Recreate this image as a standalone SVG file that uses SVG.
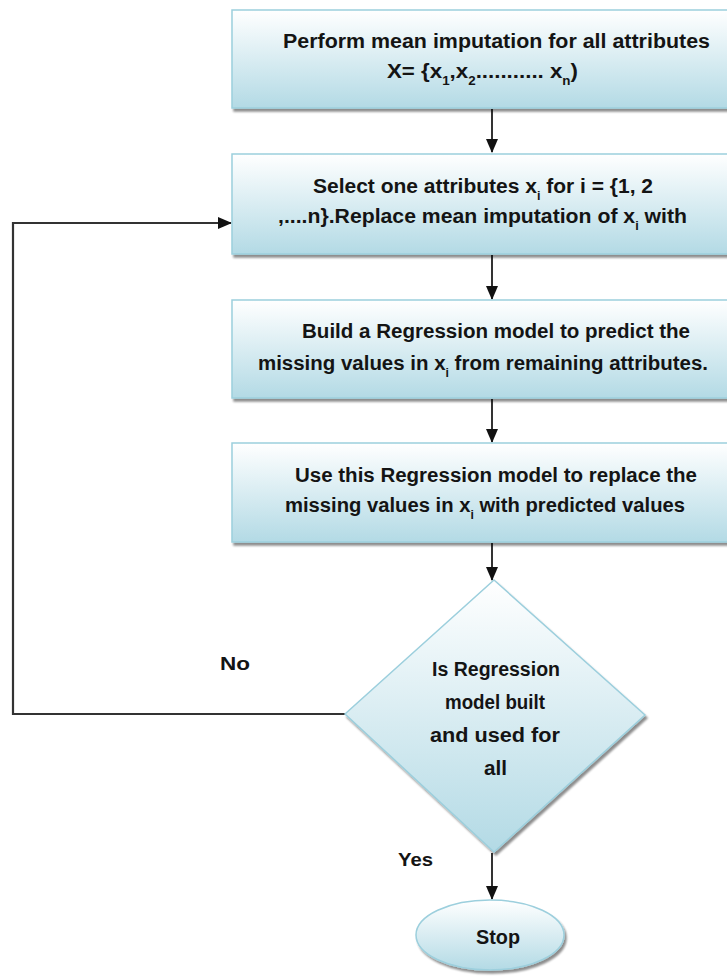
<svg xmlns="http://www.w3.org/2000/svg" width="727" height="978" viewBox="0 0 727 978">
<defs>
<linearGradient id="g" x1="0" y1="0" x2="0" y2="1">
<stop offset="0" stop-color="#ffffff"/>
<stop offset="1" stop-color="#b3dae5"/>
</linearGradient>
<filter id="sh" x="-5%" y="-5%" width="115%" height="120%">
<feGaussianBlur in="SourceAlpha" stdDeviation="1.2"/>
<feOffset dx="2" dy="3" result="o"/>
<feComponentTransfer><feFuncA type="linear" slope="0.45"/></feComponentTransfer>
<feMerge><feMergeNode/><feMergeNode in="SourceGraphic"/></feMerge>
</filter>
<marker id="ah2" markerWidth="14" markerHeight="12" refX="13" refY="6" orient="auto" markerUnits="userSpaceOnUse">
<path d="M0,0 L14,6 L0,12 Z" fill="#111"/>
</marker>
</defs>
<style>
.box{fill:url(#g);stroke:#9ccfdd;stroke-width:1.5;filter:url(#sh)}
.t{font-family:"Liberation Sans",Arial,sans-serif;font-weight:bold;font-size:20px;fill:#141414}
.lbl{font-family:"Liberation Sans",Arial,sans-serif;font-weight:bold;font-size:18px;fill:#141414}
.s{font-size:12px}
.c{stroke:#000;stroke-width:1.6;fill:none}
.loop{stroke:#333;stroke-width:2.2;fill:none}
</style>

<g id="connectors">
<line class="c" x1="492" y1="109" x2="492" y2="152" marker-end="url(#ah2)"/>
<line class="c" x1="492" y1="255" x2="492" y2="299" marker-end="url(#ah2)"/>
<line class="c" x1="492" y1="399" x2="492" y2="442" marker-end="url(#ah2)"/>
<line class="c" x1="492" y1="543" x2="492" y2="580" marker-end="url(#ah2)"/>
<line class="c" x1="492" y1="853" x2="492" y2="899" marker-end="url(#ah2)"/>
<polyline class="loop" points="345,714 13,714 13,223 231,223" marker-end="url(#ah2)"/>
</g>

<g id="n1">
<rect class="box" x="232" y="10" width="510" height="98"/>
<text class="t" x="283" y="48" textLength="427" lengthAdjust="spacingAndGlyphs">Perform mean imputation for all attributes</text>
<text class="t" x="387" y="78" textLength="191" lengthAdjust="spacingAndGlyphs">X= {x<tspan class="s" baseline-shift="sub">1</tspan>,x<tspan class="s" baseline-shift="sub">2</tspan>........... x<tspan class="s" baseline-shift="sub">n</tspan>)</text>
</g>

<g id="n2">
<rect class="box" x="232" y="154" width="510" height="100"/>
<text class="t" x="313" y="193" textLength="340" lengthAdjust="spacingAndGlyphs">Select one attributes x<tspan class="s" baseline-shift="sub">i</tspan> for i = {1, 2</text>
<text class="t" x="278" y="223" textLength="409" lengthAdjust="spacingAndGlyphs">,....n}.Replace mean imputation of x<tspan class="s" baseline-shift="sub">i</tspan> with</text>
</g>

<g id="n3">
<rect class="box" x="232" y="300" width="510" height="98"/>
<text class="t" x="302" y="338" textLength="388" lengthAdjust="spacingAndGlyphs">Build a Regression  model to predict the</text>
<text class="t" x="258" y="370" textLength="450" lengthAdjust="spacingAndGlyphs">missing values in x<tspan class="s" baseline-shift="sub">i</tspan> from remaining attributes.</text>
</g>

<g id="n4">
<rect class="box" x="232" y="443" width="510" height="99"/>
<text class="t" x="295" y="482" textLength="402" lengthAdjust="spacingAndGlyphs">Use this Regression model to replace the</text>
<text class="t" x="285" y="512" textLength="400" lengthAdjust="spacingAndGlyphs">missing values in x<tspan class="s" baseline-shift="sub">i</tspan> with predicted values</text>
</g>

<g id="n5">
<polygon class="box" points="494,580 645,715 494,852 345,714"/>
<text class="t" x="432" y="676" textLength="128" lengthAdjust="spacingAndGlyphs">Is Regression</text>
<text class="t" x="445" y="709" textLength="100" lengthAdjust="spacingAndGlyphs">model built</text>
<text class="t" x="430" y="742" textLength="130" lengthAdjust="spacingAndGlyphs">and used for</text>
<text class="t" x="484" y="775" textLength="23" lengthAdjust="spacingAndGlyphs">all</text>
</g>

<g id="n6">
<ellipse class="box" cx="490" cy="935" rx="74" ry="35"/>
<text class="t" x="476" y="944" textLength="44" lengthAdjust="spacingAndGlyphs">Stop</text>
</g>

<g id="labels">
<text class="lbl" x="220" y="670" textLength="30" lengthAdjust="spacingAndGlyphs">No</text>
<text class="lbl" x="398" y="866" textLength="35" lengthAdjust="spacingAndGlyphs">Yes</text>
</g>
</svg>
